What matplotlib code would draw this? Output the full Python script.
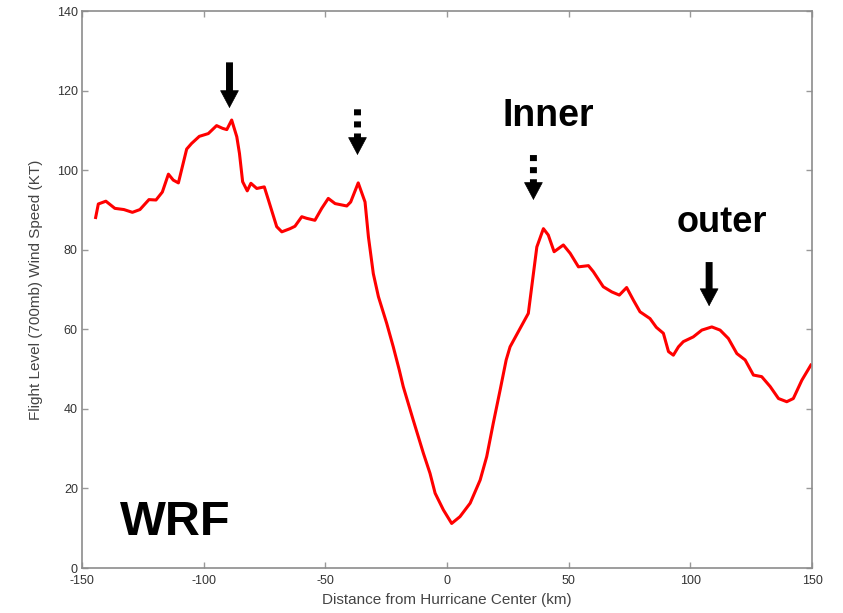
import matplotlib
matplotlib.use("Agg")
import matplotlib.pyplot as plt

plt.rcParams["font.family"] = ["Liberation Sans", "DejaVu Sans"]
plt.rcParams["axes.unicode_minus"] = False

# WRF flight level wind profile
distance_km = [
    -144.4, -143.3, -140.2, -136.5, -132.8, -129.3, -126.2, -122.5, -119.6, -117.0,
    -114.5, -112.5, -110.4, -107.0, -105.0, -101.8, -98.1, -94.7, -92.2, -90.5,
    -88.5, -86.4, -85.3, -84.0, -82.1, -80.6, -78.2, -75.1, -73.4, -70.0,
    -67.9, -64.5, -62.5, -59.7, -57.7, -54.3, -51.5, -48.8, -46.0, -41.2,
    -39.6, -36.5, -33.7, -32.3, -30.3, -28.2, -24.8, -22.1, -19.6, -18.0,
    -13.9, -9.7, -7.0, -4.9, -1.5, 1.9, 5.3, 9.5, 13.6, 16.3,
    19.0, 21.8, 24.3, 25.9, 30.0, 33.4, 34.8, 36.9, 39.6, 41.6,
    44.0, 47.8, 50.6, 54.0, 58.1, 60.1, 64.2, 67.7, 70.8, 73.8,
    76.6, 79.3, 83.4, 86.0, 88.9, 91.0, 93.0, 95.1, 97.1, 101.2,
    104.7, 108.8, 112.2, 115.6, 119.1, 122.5, 125.9, 129.3, 132.8, 136.2,
    139.6, 142.3, 145.8, 149.5,
]
wind_kt = [
    88.1, 91.5, 92.2, 90.4, 90.1, 89.4, 90.1, 92.6, 92.5, 94.5,
    99.0, 97.5, 96.8, 105.3, 106.7, 108.5, 109.2, 111.2, 110.5, 110.2,
    112.6, 108.4, 104.2, 97.1, 94.8, 96.7, 95.4, 95.8, 92.5, 85.8,
    84.5, 85.3, 85.9, 88.3, 87.9, 87.4, 90.4, 92.9, 91.6, 91.0,
    92.0, 96.8, 92.0, 83.2, 74.0, 68.2, 61.5, 55.6, 49.7, 45.6,
    37.2, 28.8, 23.8, 18.8, 14.6, 11.2, 12.9, 16.3, 22.1, 28.0,
    36.4, 44.7, 52.3, 55.6, 60.2, 64.0, 70.7, 80.7, 85.3, 83.7,
    79.5, 81.2, 79.1, 75.7, 76.0, 74.5, 70.7, 69.4, 68.6, 70.5,
    67.3, 64.4, 62.7, 60.5, 59.0, 54.4, 53.5, 55.6, 56.9, 58.1,
    59.8, 60.6, 59.8, 57.7, 53.9, 52.3, 48.5, 48.1, 45.6, 42.6,
    41.8, 42.6, 47.2, 51.0,
]

x_ticks = [-150, -100, -50, 0, 50, 100, 150]
y_ticks = [0, 20, 40, 60, 80, 100, 120, 140]

# arrows: (x, top, tip, dotted)
arrows = [
    (-89.4, 127.1, 115.6, False),
    (-36.8, 115.3, 103.8, True),
    (35.5, 103.8, 92.5, True),
    (107.7, 76.9, 65.8, False),
]

fig = plt.figure(figsize=(8.43, 6.13), dpi=100)
ax = fig.add_axes([0.0973, 0.0734, 0.866, 0.9086])

ax.plot(distance_km, wind_kt, color="#ff0000", lw=2.2, solid_joinstyle="round")

ax.set_xlim(-150, 150)
ax.set_ylim(0, 140)
ax.set_xticks(x_ticks)
ax.set_yticks(y_ticks)
ax.tick_params(direction="in", top=True, right=True, length=4, width=1,
               color="#999999", labelsize=9, labelcolor="#333333")
ax.tick_params(axis="x", pad=5)
ax.tick_params(axis="y", pad=3)
for sp in ax.spines.values():
    sp.set_color("#8c8c8c")
    sp.set_linewidth(1.2)

ax.set_xlabel("Distance from Hurricane Center (km)", fontsize=11, color="#444444")
ax.set_ylabel("Flight Level (700mb) Wind Speed (KT)", fontsize=11, color="#444444")
ax.xaxis.set_label_coords(0.5, -0.045)
ax.yaxis.set_label_coords(-0.053, 0.5)

# 矢印（実線と点線）
for x, top, tip, dotted in arrows:
    head_base = tip + 4.0
    ls = (0, (0.87, 0.87)) if dotted else "-"
    ax.annotate("", xy=(x, head_base), xytext=(x, top),
                arrowprops=dict(arrowstyle="-", lw=5, color="black", linestyle=ls,
                                shrinkA=0, shrinkB=0, capstyle="butt"))
    ax.annotate("", xy=(x, tip), xytext=(x, tip + 5),
                arrowprops=dict(arrowstyle="-|>,head_length=0.6,head_width=0.32",
                                mutation_scale=20, lw=0.5, color="black",
                                shrinkA=0, shrinkB=0))

ax.text(41.5, 111, "Inner", fontsize=27, fontweight="bold", ha="center", va="baseline")
ax.text(113, 84.4, "outer", fontsize=26, fontweight="bold", ha="center", va="baseline")
ax.text(-111.8, 8.3, "WRF", fontsize=35, fontweight="bold", ha="center", va="baseline")

plt.savefig("out.png", dpi=100)
